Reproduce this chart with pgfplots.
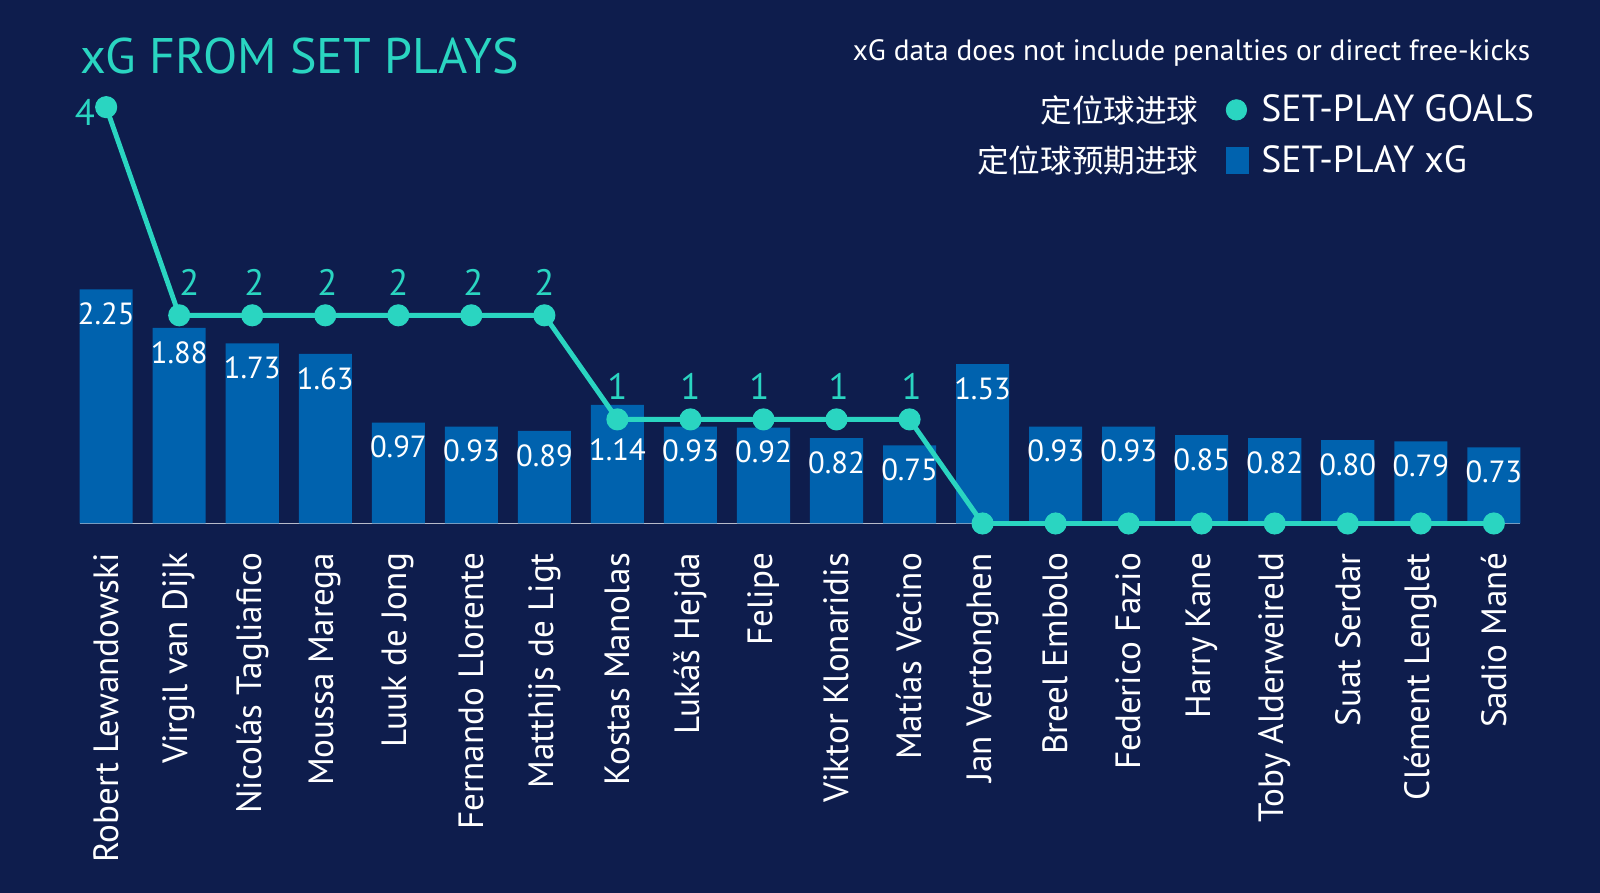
\documentclass[border=0pt]{standalone}
\usepackage{fontspec}
\setmainfont{PT Sans}
\newfontfamily\cjk{Noto Sans CJK SC}
\usepackage{pgfplots}
\usepackage{pgfplotstable}
\pgfplotsset{compat=1.18}
\definecolor{bg}{HTML}{0E1D4D}
\definecolor{barblue}{HTML}{0062AE}
\definecolor{goalc}{HTML}{2AD5C1}
\pgfplotstableread{
x xg goals off gx
0 2.25 4 -12 0
1 1.88 2 -12 5
2 1.73 2 -12 1
3 1.63 2 -12 1
4 0.97 2 -12 0
5 0.93 2 -12 1
6 0.89 2 -12 0
7 1.14 1 -22 0
8 0.93 1 -12 0
9 0.92 1 -12 -2
10 0.82 1 -12 1
11 0.75 1 -12 1
12 1.53 0 -12 0
13 0.93 0 -12 0
14 0.93 0 -12 0
15 0.85 0 -12 0
16 0.82 0 -12 0
17 0.80 0 -12 0
18 0.79 0 -12 0
19 0.73 0 -12 0
}\data
\begin{document}
\begin{tikzpicture}
\fill[bg] (0,0) rectangle (784pt,437.5pt);
\node[anchor=west, inner sep=0, text=goalc, font=\fontsize{24.5}{28}\selectfont] at (39pt,410pt) {xG FROM SET PLAYS};
\node[anchor=east, inner sep=0, text=white, font=\fontsize{14.4}{16}\selectfont] at (750pt,411.5pt) {xG data does not include penalties or direct free-kicks};
\node[anchor=east, inner sep=0, text=white, font=\cjk\fontsize{15.5}{17}\selectfont] at (587.5pt,383.5pt) {定位球进球};
\node[anchor=east, inner sep=0, text=white, font=\cjk\fontsize{15.5}{17}\selectfont] at (587.5pt,359pt) {定位球预期进球};
\begin{axis}[
  at={(39pt,181pt)}, anchor=south west,
  scale only axis, width=706pt, height=214.2pt,
  xmin=-0.364, xmax=19.364, ymin=0, ymax=4.2,
  axis x line*=bottom, axis y line=none,
  x axis line style={draw=white!70!bg, line width=0.8pt, -},
  xtick={0,...,19},
  xticklabels={Robert Lewandowski, Virgil van Dijk, Nicolás Tagliafico, Moussa Marega, Luuk de Jong, Fernando Llorente, Matthijs de Ligt, Kostas Manolas, Lukáš Hejda, Felipe, Viktor Klonaridis, Matías Vecino, Jan Vertonghen, Breel Embolo, Federico Fazio, Harry Kane, Toby Alderweireld, Suat Serdar, Clément Lenglet, Sadio Mané},
  major tick length=0pt,
  xticklabel style={rotate=90, anchor=east, text=white, font=\fontsize{17.2}{20}\selectfont},
  xticklabel shift=11pt,
  ytick=\empty,
  clip=false,
  legend style={at={(0.791,1.0)}, anchor=north west, draw=none, fill=none, text=white,
    font=\fontsize{18.5}{21}\selectfont, row sep=6pt,
    /tikz/every odd column/.append style={column sep=4pt}},
  legend cell align=left,
]
\addplot[ybar, bar width=26pt, fill=barblue, draw=none, forget plot,
  point meta=y, nodes near coords,
  visualization depends on={\thisrow{off} \as \off},
  every node near coord/.append style={anchor=center, yshift=\off pt, text=white,
    font=\fontsize{15}{17}\selectfont,
    /pgf/number format/.cd, fixed, fixed zerofill, precision=2, assume math mode=true}]
  table[x=x, y=xg]{\data};
\addplot[goalc, line width=2.4pt, mark=*, mark size=4.2pt, forget plot,
  mark options={solid, fill=goalc, draw=none}]
  table[x=x, y=goals]{\data};
\addplot[draw=none, mark=none, forget plot, restrict x to domain=0.5:11.5,
  point meta=y, nodes near coords,
  visualization depends on={\thisrow{gx} \as \gx},
  every node near coord/.append style={anchor=center, xshift=\gx pt, yshift=16pt, text=goalc,
    font=\fontsize{18}{20}\selectfont,
    /pgf/number format/.cd, fixed, precision=0, assume math mode=true}]
  table[x=x, y=goals]{\data};
\addplot[draw=none, mark=none, forget plot, restrict x to domain=-0.5:0.5,
  point meta=y, nodes near coords,
  every node near coord/.append style={anchor=east, xshift=-2pt, yshift=-2.5pt, text=goalc,
    font=\fontsize{18}{20}\selectfont,
    /pgf/number format/.cd, fixed, precision=0, assume math mode=true}]
  table[x=x, y=goals]{\data};
\addlegendimage{legend image code/.code={\fill[goalc] (5pt,0pt) circle (5pt);}}
\addlegendentry{SET-PLAY GOALS}
\addlegendimage{legend image code/.code={\fill[barblue] (0pt,-6.25pt) rectangle (11pt,6.25pt);}}
\addlegendentry{SET-PLAY xG}
\end{axis}
\end{tikzpicture}
\end{document}
